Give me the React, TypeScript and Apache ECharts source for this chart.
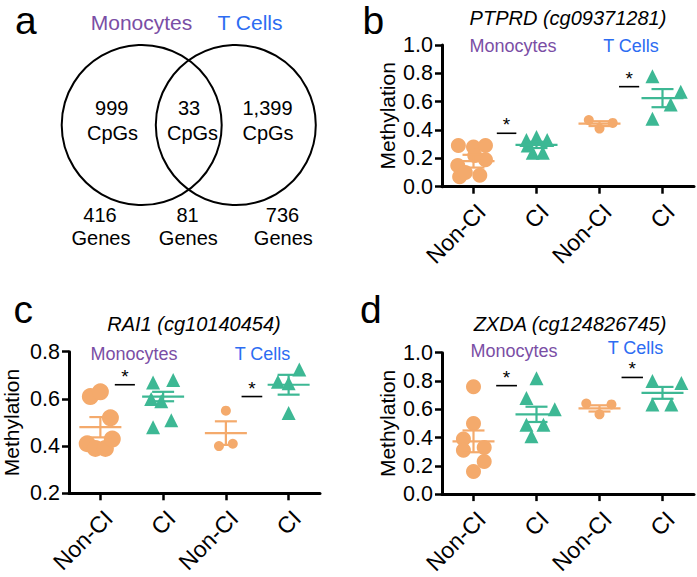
import React, { useEffect, useRef } from "react";
import * as echarts from "echarts";

const FONT = "'Liberation Sans', Arial, Helvetica, sans-serif";
const ORANGE = "#F4AA6C";
const TEAL = "#3DB894";
const PURPLE = "#7A4EA5";
const BLUE = "#2C6CF2";

// ---------- categories ----------
const groupLabels = ["Non-CI", "CI", "Non-CI", "CI"];

// ---------- panel a (Venn) ----------
const vennTop = ["Monocytes", "T Cells"];
const vennCpGs = ["999", "33", "1,399"];
const vennGenes = ["416", "81", "736"];

// ---------- panel b: PTPRD (cg09371281) ----------
const bMonoNonCI = [0.29, 0.28, 0.29, 0.19, 0.15, 0.22, 0.07, 0.08, 0.1];
const bMonoNonCIJit = [-0.24, 0, 0.19, 0.19, -0.25, 0.02, -0.22, 0.1, -0.13];
const bMonoCI = [0.33, 0.35, 0.33, 0.24, 0.24, 0.29];
const bMonoCIJit = [-0.16, 0, 0.17, -0.06, 0.1, -0.14];
const bTNonCI = [0.47, 0.45, 0.41];
const bTNonCIJit = [-0.17, 0.21, 0];
const bTCI = [0.78, 0.67, 0.58, 0.48];
const bTCIJit = [-0.16, 0.29, 0.13, -0.16];
const bMeans = [0.18, 0.295, 0.445, 0.625];
const bSems = [0.045, 0.022, 0.017, 0.064];
const bSig = [
  [0.87, 1.18, 0.377],
  [2.81, 3.13, 0.706],
];

// ---------- panel c: RAI1 (cg10140454) ----------
const cMonoNonCI = [0.61, 0.63, 0.52, 0.41, 0.39, 0.39, 0.43];
const cMonoNonCIJit = [-0.16, 0, 0.16, -0.21, -0.08, 0.08, 0.19];
const cMonoCI = [0.67, 0.68, 0.6, 0.59, 0.48, 0.51];
const cMonoCIJit = [-0.16, 0.16, -0.19, -0.03, -0.16, 0.13];
const cTNonCI = [0.55, 0.4, 0.41];
const cTNonCIJit = [0, -0.11, 0.11];
const cTCI = [0.725, 0.673, 0.666, 0.54];
const cTCIJit = [0.17, -0.17, 0, 0];
const cMeans = [0.48, 0.61, 0.455, 0.66];
const cSems = [0.043, 0.02, 0.05, 0.042];
const cSig = [
  [0.73, 1.05, 0.66],
  [2.75, 3.08, 0.61],
];

// ---------- panel d: ZXDA (cg124826745) ----------
const dMonoNonCI = [0.76, 0.5, 0.39, 0.31, 0.33, 0.23, 0.16];
const dMonoNonCIJit = [0, 0, -0.16, -0.16, 0.17, 0.17, 0];
const dMonoCI = [0.82, 0.68, 0.6, 0.49, 0.49, 0.41];
const dMonoCIJit = [0, -0.16, 0.29, -0.16, 0.11, -0.08];
const dTNonCI = [0.64, 0.634, 0.564];
const dTNonCIJit = [-0.21, 0.19, 0];
const dTCI = [0.8, 0.786, 0.634, 0.634];
const dTCIJit = [-0.16, 0.3, -0.16, 0.14];
const dMeans = [0.373, 0.564, 0.606, 0.716];
const dSems = [0.077, 0.054, 0.022, 0.042];
const dSig = [
  [0.86, 1.19, 0.767],
  [2.85, 3.19, 0.825],
];

type Group = { vals: number[]; jit: number[]; symbol: string; size: number; color: string };
type Panel = {
  grid: any;
  yMin: number;
  yMax: number;
  nameGap: number;
  groups: Group[];
  means: number[];
  sems: number[];
  sig: number[][];
};

const panels: Panel[] = [
  {
    grid: { left: 442, top: 45, width: 252, height: 141.7 },
    yMin: 0,
    yMax: 1,
    nameGap: 44,
    groups: [
      { vals: bMonoNonCI, jit: bMonoNonCIJit, symbol: "circle", size: 15, color: ORANGE },
      { vals: bMonoCI, jit: bMonoCIJit, symbol: "triangle", size: 14, color: TEAL },
      { vals: bTNonCI, jit: bTNonCIJit, symbol: "circle", size: 10, color: ORANGE },
      { vals: bTCI, jit: bTCIJit, symbol: "triangle", size: 14, color: TEAL },
    ],
    means: bMeans,
    sems: bSems,
    sig: bSig,
  },
  {
    grid: { left: 68, top: 351.7, width: 252, height: 141.6 },
    yMin: 0.2,
    yMax: 0.8,
    nameGap: 47,
    groups: [
      { vals: cMonoNonCI, jit: cMonoNonCIJit, symbol: "circle", size: 17, color: ORANGE },
      { vals: cMonoCI, jit: cMonoCIJit, symbol: "triangle", size: 14, color: TEAL },
      { vals: cTNonCI, jit: cTNonCIJit, symbol: "circle", size: 10, color: ORANGE },
      { vals: cTCI, jit: cTCIJit, symbol: "triangle", size: 14, color: TEAL },
    ],
    means: cMeans,
    sems: cSems,
    sig: cSig,
  },
  {
    grid: { left: 442, top: 352.7, width: 252, height: 143 },
    yMin: 0,
    yMax: 1,
    nameGap: 44,
    groups: [
      { vals: dMonoNonCI, jit: dMonoNonCIJit, symbol: "circle", size: 15, color: ORANGE },
      { vals: dMonoCI, jit: dMonoCIJit, symbol: "triangle", size: 14, color: TEAL },
      { vals: dTNonCI, jit: dTNonCIJit, symbol: "circle", size: 10, color: ORANGE },
      { vals: dTCI, jit: dTCIJit, symbol: "triangle", size: 14, color: TEAL },
    ],
    means: dMeans,
    sems: dSems,
    sig: dSig,
  },
];

function txt(text: string, x: number, y: number, fontSize: number, fill = "#000", extra: any = {}) {
  return {
    type: "text",
    x,
    y,
    silent: true,
    style: {
      text,
      fill,
      fontSize,
      fontFamily: FONT,
      align: "center",
      textAlign: "center",
      verticalAlign: "middle",
      textVerticalAlign: "middle",
      ...extra,
    },
  };
}

function buildOption() {
  const xAxis: any[] = [];
  const yAxis: any[] = [];
  const series: any[] = [];

  panels.forEach((p, i) => {
    xAxis.push({
      type: "category",
      gridIndex: i,
      data: groupLabels,
      axisLine: { show: true, lineStyle: { color: "#000", width: 3 } },
      axisTick: { show: true, alignWithLabel: true, length: 7, lineStyle: { color: "#000", width: 2.5 } },
      axisLabel: {
        rotate: 45,
        interval: 0,
        fontSize: 23,
        color: "#000",
        fontFamily: FONT,
        margin: 13,
        verticalAlign: "top",
      },
      splitLine: { show: false },
    });
    xAxis.push({ type: "value", gridIndex: i, min: 0, max: 4, show: false });
    yAxis.push({
      type: "value",
      gridIndex: i,
      min: p.yMin,
      max: p.yMax,
      interval: 0.2,
      name: "Methylation",
      nameLocation: "middle",
      nameGap: p.nameGap,
      nameTextStyle: { fontSize: 21, color: "#000", fontFamily: FONT },
      axisLine: { show: true, lineStyle: { color: "#000", width: 3 } },
      axisTick: { show: true, length: 7, lineStyle: { color: "#000", width: 2.5 } },
      axisLabel: {
        fontSize: 21.5,
        color: "#000",
        fontFamily: FONT,
        margin: 9,
        formatter: (v: number) => v.toFixed(1),
      },
      splitLine: { show: false },
    });

    p.groups.forEach((g, gi) => {
      series.push({
        type: "scatter",
        xAxisIndex: 2 * i + 1,
        yAxisIndex: i,
        symbol: g.symbol,
        symbolSize: g.size,
        itemStyle: { color: g.color, opacity: 1 },
        data: g.vals.map((v, k) => [gi + 0.5 + g.jit[k], v]),
        z: 2,
      });
    });

    series.push({
      type: "custom",
      xAxisIndex: 2 * i + 1,
      yAxisIndex: i,
      z: 3,
      encode: { x: 0, y: 1 },
      data: p.means.map((m, gi) => [gi + 0.5, m, p.sems[gi]]),
      renderItem: (params: any, api: any) => {
        const x = api.value(0);
        const m = api.value(1);
        const s = api.value(2);
        const c = api.coord([x, m]);
        const t = api.coord([x, m + s]);
        const b = api.coord([x, m - s]);
        const color = params.dataIndex % 2 === 0 ? ORANGE : TEAL;
        const st = { stroke: color, lineWidth: 2.2 };
        return {
          type: "group",
          children: [
            { type: "line", shape: { x1: c[0] - 21, y1: c[1], x2: c[0] + 21, y2: c[1] }, style: st },
            { type: "line", shape: { x1: c[0], y1: t[1], x2: c[0], y2: b[1] }, style: st },
            { type: "line", shape: { x1: c[0] - 11, y1: t[1], x2: c[0] + 11, y2: t[1] }, style: st },
            { type: "line", shape: { x1: c[0] - 11, y1: b[1], x2: c[0] + 11, y2: b[1] }, style: st },
          ],
        };
      },
    });

    series.push({
      type: "custom",
      xAxisIndex: 2 * i + 1,
      yAxisIndex: i,
      z: 4,
      encode: { x: [0, 1], y: 2 },
      data: p.sig,
      renderItem: (params: any, api: any) => {
        const a = api.coord([api.value(0), api.value(2)]);
        const b = api.coord([api.value(1), api.value(2)]);
        return {
          type: "group",
          children: [
            { type: "line", shape: { x1: a[0], y1: a[1], x2: b[0], y2: b[1] }, style: { stroke: "#000", lineWidth: 1.6 } },
            {
              type: "text",
              x: (a[0] + b[0]) / 2,
              y: a[1] - 8.5,
              style: {
                text: "*",
                fill: "#000",
                fontSize: 19,
                fontFamily: FONT,
                align: "center",
                textAlign: "center",
                verticalAlign: "middle",
                textVerticalAlign: "middle",
              },
            },
          ],
        };
      },
    });
  });

  const graphic: any[] = [
    // Venn diagram
    { type: "circle", shape: { cx: 141.7, cy: 125, r: 80 }, style: { fill: "none", stroke: "#000", lineWidth: 2 } },
    { type: "circle", shape: { cx: 235.8, cy: 125, r: 80 }, style: { fill: "none", stroke: "#000", lineWidth: 2 } },
    txt(vennTop[0], 141.5, 22.7, 21, PURPLE),
    txt(vennTop[1], 250, 22.7, 21, BLUE),
    txt(vennCpGs[0], 111.7, 108, 20),
    txt("CpGs", 112.5, 133, 20),
    txt(vennCpGs[1], 189, 108, 20),
    txt("CpGs", 192.5, 133, 20),
    txt(vennCpGs[2], 267.5, 108, 20),
    txt("CpGs", 268, 133, 20),
    txt(vennGenes[0], 100, 214.8, 20),
    txt("Genes", 101, 238, 20),
    txt(vennGenes[1], 187.5, 214.8, 20),
    txt("Genes", 188.3, 238, 20),
    txt(vennGenes[2], 282.5, 214.8, 20),
    txt("Genes", 283.3, 238, 20),
    // panel letters
    txt("a", 15, 20.5, 39, "#000", { align: "left", textAlign: "left" }),
    txt("b", 362.5, 20.5, 39, "#000", { align: "left", textAlign: "left" }),
    txt("c", 13.5, 309.8, 39, "#000", { align: "left", textAlign: "left" }),
    txt("d", 360, 309.8, 39, "#000", { align: "left", textAlign: "left" }),
    // titles
    txt("PTPRD (cg09371281)", 568, 18, 20, "#000", { fontStyle: "italic" }),
    txt("RAI1 (cg10140454)", 194, 323.8, 20, "#000", { fontStyle: "italic" }),
    txt("ZXDA (cg124826745)", 570, 323.8, 20, "#000", { fontStyle: "italic" }),
    // group labels
    txt("Monocytes", 513, 45.5, 18, PURPLE),
    txt("T Cells", 631, 45.5, 18, BLUE),
    txt("Monocytes", 134, 353.8, 18, PURPLE),
    txt("T Cells", 262.5, 353.8, 18, BLUE),
    txt("Monocytes", 514, 350.5, 18, PURPLE),
    txt("T Cells", 635.5, 347.5, 18, BLUE),
  ];

  return {
    animation: false,
    backgroundColor: "#fff",
    grid: panels.map((p) => ({ ...p.grid, containLabel: false })),
    xAxis,
    yAxis,
    series,
    graphic,
  };
}

export default function App() {
  const ref = useRef<HTMLDivElement>(null);
  useEffect(() => {
    if (!ref.current) return;
    const chart = echarts.init(ref.current, undefined, { renderer: "svg" });
    chart.setOption(buildOption() as any);
    return () => chart.dispose();
  }, []);
  return (
    <div
      ref={ref}
      style={{ position: "absolute", left: 0, top: 0, width: 697, height: 577, background: "#fff" }}
    />
  );
}
